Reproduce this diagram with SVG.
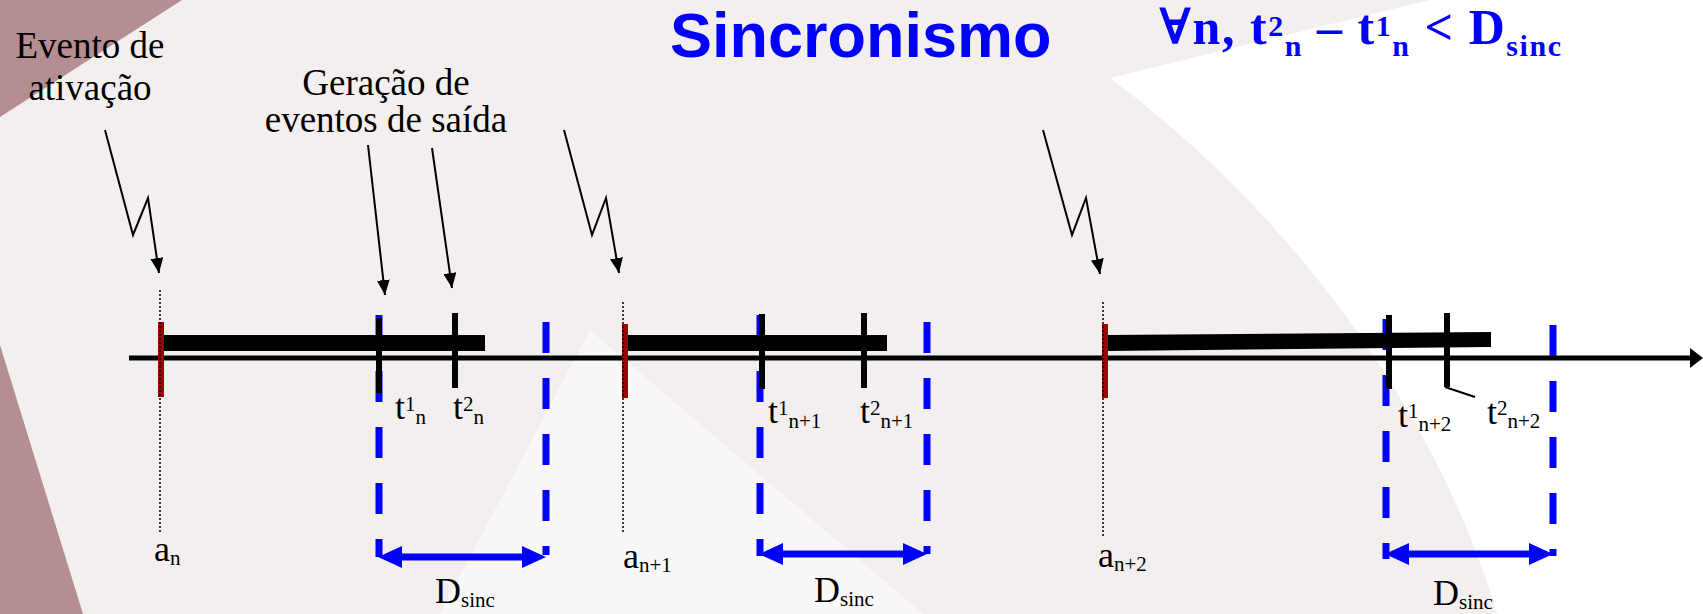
<svg xmlns="http://www.w3.org/2000/svg" width="1703" height="614" viewBox="0 0 1703 614">
<style>
.lbl{font-family:"Liberation Serif","Times New Roman",serif;font-size:36px;fill:#000}
.big{font-family:"Liberation Serif","Times New Roman",serif;font-size:37px;fill:#000}
.sub{font-size:21px}
.title{font-family:"Liberation Sans",Arial,sans-serif;font-weight:bold;font-size:63px;fill:#0000ff}
.formula{font-family:"Liberation Serif","DejaVu Serif",serif;font-weight:bold;font-size:50px;fill:#0000ff}
.fs{font-size:30px}
.bar{fill:#000}
.tick{stroke:#000;stroke-width:6}
.red{stroke:#a00000;stroke-width:6}
.dot{stroke:#000;stroke-width:1.5;stroke-dasharray:2 2;fill:none}
.blue{stroke:#0000ff;stroke-width:7;stroke-dasharray:31 25;fill:none}
.dsinc{stroke:#0000ff;stroke-width:7;fill:none;marker-start:url(#bh);marker-end:url(#bh)}
.conn{stroke:#000;stroke-width:2;fill:none;marker-end:url(#ah)}
</style>
<defs>
<marker id="ah" markerUnits="userSpaceOnUse" markerWidth="15" markerHeight="13" refX="15" refY="6.5" orient="auto"><path d="M0,0 L15,6.5 L0,13 z" fill="#000"/></marker>
<marker id="bh" markerUnits="userSpaceOnUse" markerWidth="24" markerHeight="22" refX="16" refY="11" orient="auto-start-reverse"><path d="M0,0 L24,11 L0,22 z" fill="#0000ff"/></marker>
<marker id="axh" markerUnits="userSpaceOnUse" markerWidth="13" markerHeight="20" refX="0" refY="10" orient="auto"><path d="M0,0 L13,10 L0,20 z" fill="#000"/></marker>
</defs>
<g id="background">
<rect width="1703" height="614" fill="#f3efef"/>
<polygon points="0,0 182,0 0,117" fill="#b48e93"/>
<polygon points="0,345 83,614 0,614" fill="#b48e93"/>
<polygon points="590,330 440,614 923,614" fill="#f9f7f7"/>
<path d="M1110,78 L1430,0 L1703,0 L1703,614 L1497,614 C1440,420 1300,220 1110,78 Z" fill="#ffffff"/>
</g>
<g id="title"><text class="title" x="670" y="57">Sincronismo</text></g>
<g id="formula">
<text class="formula" x="1159" y="44" textLength="402" lengthAdjust="spacing">∀n, t<tspan class="fs" dy="-8">2</tspan><tspan class="fs" dy="20">n</tspan><tspan dy="-12"> – t</tspan><tspan class="fs" dy="-8">1</tspan><tspan class="fs" dy="20">n</tspan><tspan dy="-12"> &lt; D</tspan><tspan class="fs" dy="12">sinc</tspan></text>
</g>
<g id="label-evento">
<text class="big" x="90" y="58" text-anchor="middle">Evento de</text>
<text class="big" x="90" y="100" text-anchor="middle">ativação</text>
</g>
<g id="label-geracao">
<text class="big" x="386" y="95" text-anchor="middle">Geração de</text>
<text class="big" x="386" y="132" text-anchor="middle">eventos de saída</text>
</g>
<g id="timeline">
<line x1="129" y1="358" x2="1690" y2="358" stroke="#000" stroke-width="5" marker-end="url(#axh)"/>
</g>
<g id="event-n">
<line class="blue" x1="379" y1="315" x2="379" y2="557"/>
<line class="blue" x1="546" y1="322" x2="546" y2="555"/>
<rect class="bar" x="158" y="335" width="327" height="16"/>
<line class="red" x1="161" y1="322" x2="161" y2="397"/>
<line class="dot" x1="160" y1="290" x2="160" y2="532"/>
<line class="tick" x1="379" y1="318" x2="379" y2="393"/>
<line class="tick" x1="455" y1="313" x2="455" y2="388"/>
<line class="dsinc" x1="386" y1="557" x2="538" y2="557"/>
<text class="lbl" x="395" y="419">t<tspan class="sub" dy="-8">1</tspan><tspan class="sub" dy="13">n</tspan></text>
<text class="lbl" x="453" y="419">t<tspan class="sub" dy="-8">2</tspan><tspan class="sub" dy="13">n</tspan></text>
<text class="lbl" x="154" y="561">a<tspan class="sub" dy="4">n</tspan></text>
<text class="lbl" x="435" y="603">D<tspan class="sub" dy="4">sinc</tspan></text>
</g>
<g id="event-n1">
<line class="blue" x1="760" y1="315" x2="760" y2="556"/>
<line class="blue" x1="927" y1="322" x2="927" y2="554"/>
<rect class="bar" x="627" y="335" width="260" height="16"/>
<line class="red" x1="625" y1="324" x2="625" y2="398"/>
<line class="dot" x1="623" y1="302" x2="623" y2="532"/>
<line class="tick" x1="762" y1="314" x2="762" y2="389"/>
<line class="tick" x1="864" y1="313" x2="864" y2="388"/>
<line class="dsinc" x1="767" y1="554" x2="919" y2="554"/>
<text class="lbl" x="768" y="423">t<tspan class="sub" dy="-8">1</tspan><tspan class="sub" dy="13">n+1</tspan></text>
<text class="lbl" x="860" y="423">t<tspan class="sub" dy="-8">2</tspan><tspan class="sub" dy="13">n+1</tspan></text>
<text class="lbl" x="623" y="568">a<tspan class="sub" dy="4">n+1</tspan></text>
<text class="lbl" x="814" y="602">D<tspan class="sub" dy="4">sinc</tspan></text>
</g>
<g id="event-n2">
<line class="blue" x1="1386" y1="319" x2="1386" y2="559"/>
<line class="blue" x1="1553" y1="325" x2="1553" y2="556"/>
<polygon class="bar" points="1108,335 1491,332 1491,347 1108,351"/>
<line class="red" x1="1105" y1="324" x2="1105" y2="398"/>
<line class="dot" x1="1103" y1="302" x2="1103" y2="538"/>
<line class="tick" x1="1389" y1="315" x2="1389" y2="389"/>
<line class="tick" x1="1447" y1="313" x2="1447" y2="387"/>
<polyline points="1445,387 1475,397" stroke="#000" stroke-width="2" fill="none"/>
<line class="dsinc" x1="1393" y1="554" x2="1545" y2="554"/>
<text class="lbl" x="1398" y="427">t<tspan class="sub" dy="-9">1</tspan><tspan class="sub" dy="13">n+2</tspan></text>
<text class="lbl" x="1487" y="424">t<tspan class="sub" dy="-9">2</tspan><tspan class="sub" dy="13">n+2</tspan></text>
<text class="lbl" x="1098" y="567">a<tspan class="sub" dy="4">n+2</tspan></text>
<text class="lbl" x="1433" y="605">D<tspan class="sub" dy="4">sinc</tspan></text>
</g>
<g id="connectors">
<polyline class="conn" points="105,130 133,235 148,198 159,273"/>
<polyline class="conn" points="564,130 592,235 606,198 619,273"/>
<polyline class="conn" points="1043,130 1072,235 1086,198 1100,274"/>
<line class="conn" x1="368" y1="145" x2="385" y2="295"/>
<line class="conn" x1="432" y1="148" x2="452" y2="288"/>
</g>
</svg>
